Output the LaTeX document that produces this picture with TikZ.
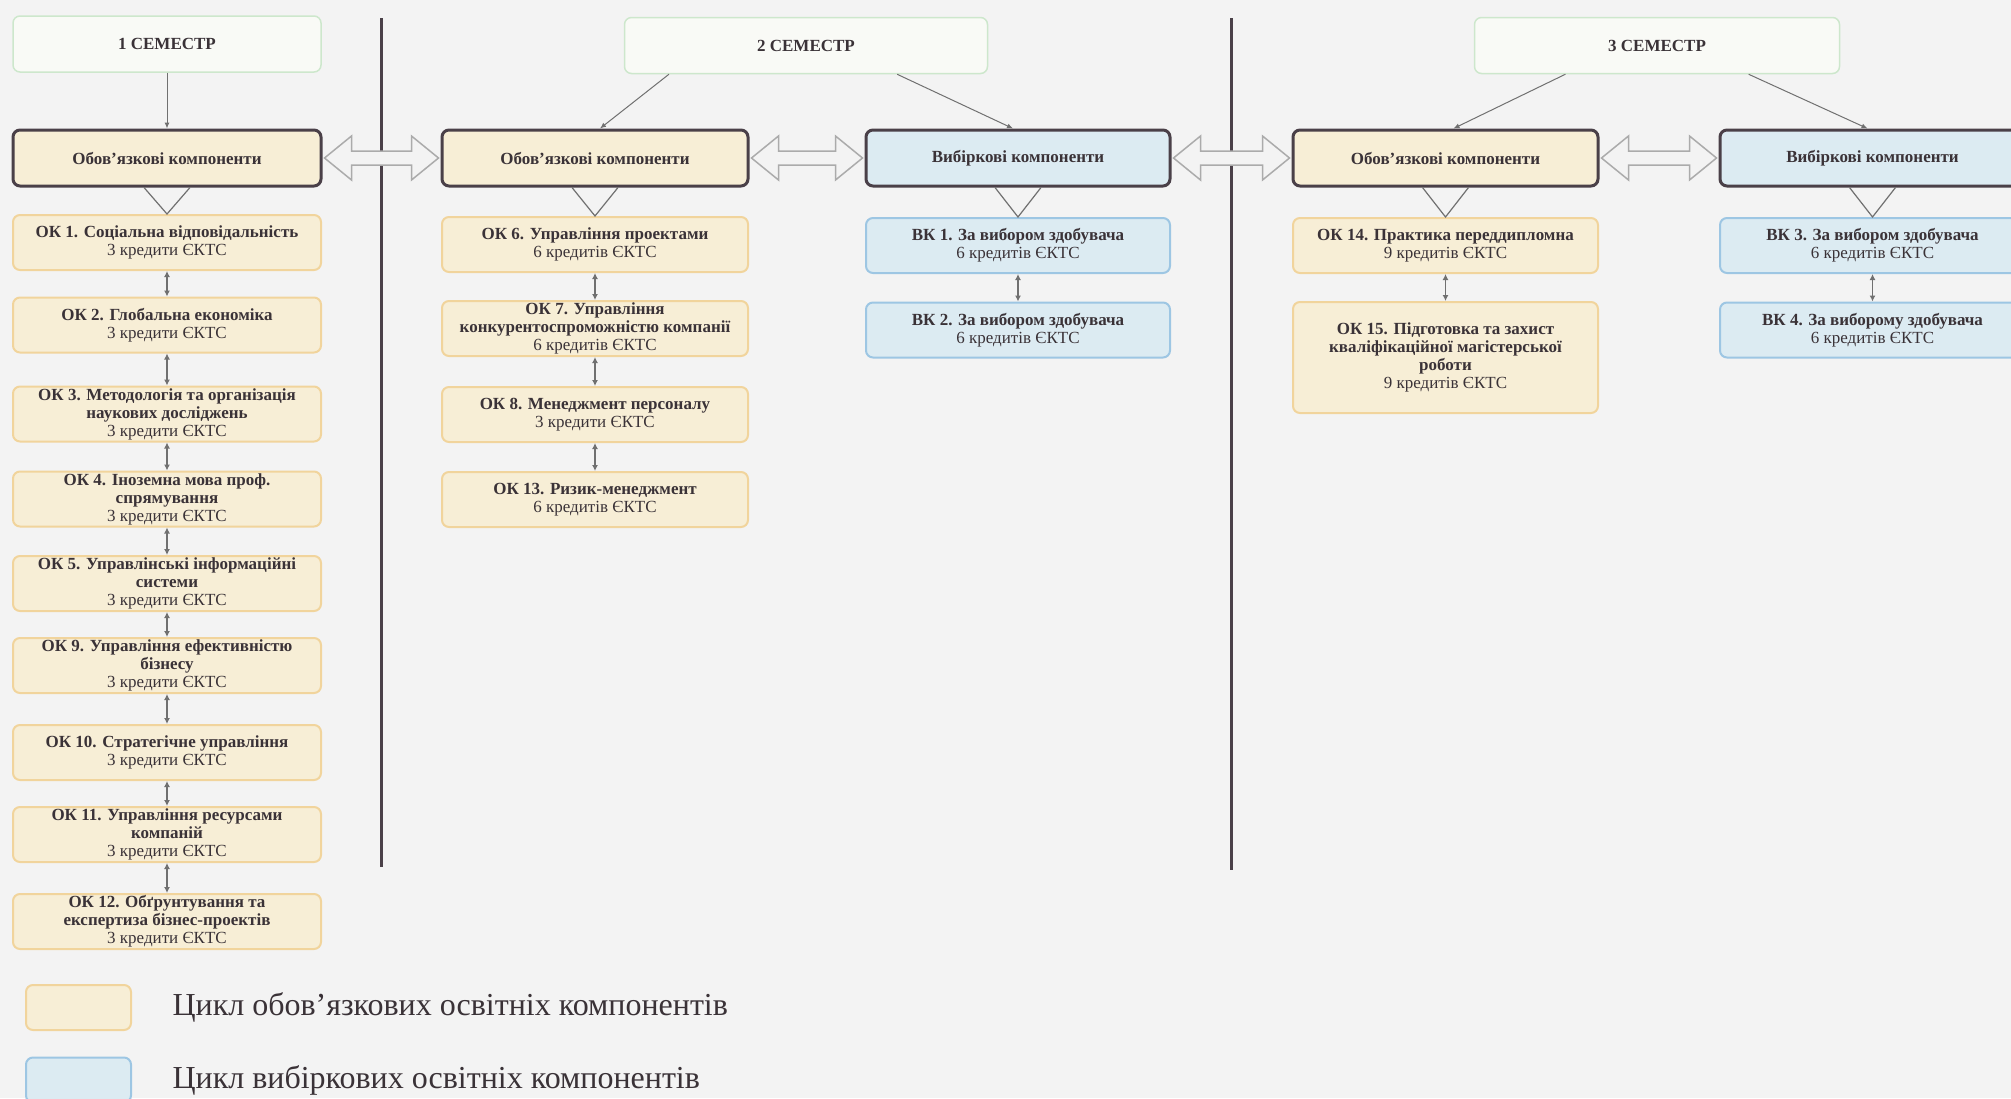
\documentclass[tikz,border=0pt]{standalone}
\usepackage{fontspec}
\setmainfont{Liberation Serif}
\usetikzlibrary{arrows.meta,calc,positioning}

\definecolor{bg}{HTML}{F3F3F3}
\definecolor{semline}{HTML}{CDE7CC}
\definecolor{semfill}{HTML}{F9FAF6}
\definecolor{headline}{HTML}{4A4048}
\definecolor{okfill}{HTML}{F7EED6}
\definecolor{okline}{HTML}{F1D49C}
\definecolor{vkfill}{HTML}{DCEBF2}
\definecolor{vkline}{HTML}{9DC6E3}
\definecolor{ink}{HTML}{3A3237}
\definecolor{twinline}{HTML}{ABABAB}
\definecolor{linkline}{HTML}{707070}

\tikzset{
  box/.style={rectangle, rounded corners=7pt, align=center, inner sep=1pt,
    text=ink, minimum height=55pt, font=\bfseries\fontsize{17}{18}\selectfont},
  sembox/.style={box, draw=semline, fill=semfill, line width=1.5pt,
    minimum width=308pt, minimum height=56pt},
  headbox/.style={box, draw=headline, line width=3pt, minimum width=304pt,
    minimum height=56pt},
  okbox/.style={box, draw=okline, fill=okfill, line width=2pt, minimum width=306pt},
  vkbox/.style={box, draw=vkline, fill=vkfill, line width=2pt, minimum width=304pt},
  link/.style={draw=linkline, line width=1pt, -{Latex[length=6pt,width=5pt]}},
  twoway/.style={draw=linkline, line width=1.2pt,
    {Latex[length=6pt,width=6pt]}-{Latex[length=6pt,width=6pt]}},
  vee/.style={draw=linkline, line width=1.2pt},
  twin/.style={draw=twinline, fill=bg, line width=1.5pt, line join=miter},
  divider/.style={draw=headline, line width=3pt},
  legtext/.style={anchor=west, text=ink, font=\fontsize{32}{36}\selectfont}
}

% hollow two-headed arrow between two head boxes
\newcommand{\twinarrow}[2]{%
  \path[twin] ($(#1.east)+(2,0)$) -- ++(27,-22) -- ++(0,15)
    -- ($(#2.west)+(-29,-7)$) -- ++(0,-15) -- ($(#2.west)+(-2,0)$)
    -- ++(-27,22) -- ++(0,-15) -- ($(#1.east)+(29,7)$) -- ++(0,15) -- cycle;}
\newcommand{\cred}[1]{\textmd{#1}}

\begin{document}
\begin{tikzpicture}[x=1pt,y=-1pt]
\useasboundingbox (0,0) rectangle (2011,1098);
\clip (0,0) rectangle (2011,1098);
\fill[bg] (0,0) rectangle (2011,1098);

\draw[divider] (381,18) -- (381,867);
\draw[divider] (1231,18) -- (1231,870);

% semesters
\node[sembox] (sem1) at (167,44) {1 СЕМЕСТР};
\node[sembox, minimum width=363pt] (sem2) at (806,45.5) {2 СЕМЕСТР};
\node[sembox, minimum width=365pt] (sem3) at (1657,45.5) {3 СЕМЕСТР};

% heads
\node[headbox, fill=okfill, minimum width=308pt] (ob1) at (167,158) {Обов’язкові компоненти};
\node[headbox, fill=okfill, minimum width=306pt] (ob2) at (595,158) {Обов’язкові компоненти};
\node[headbox, fill=vkfill] (vb2) at (1018,158) {Вибіркові компоненти};
\node[headbox, fill=okfill, minimum width=305pt] (ob3) at (1445.5,158) {Обов’язкові компоненти};
\node[headbox, fill=vkfill, minimum width=305pt] (vb3) at (1872.5,158) {Вибіркові компоненти};

% 1 semester
\node[okbox, minimum width=308pt] (ok1) at (167,242.5) {ОК 1. Соціальна відповідальність\\\cred{3 кредити ЄКТС}};
\node[okbox, minimum width=308pt] (ok2) at (167,325) {ОК 2. Глобальна економіка\\\cred{3 кредити ЄКТС}};
\node[okbox, minimum width=308pt] (ok3) at (167,414) {ОК 3. Методологія та організація\\наукових досліджень\\\cred{3 кредити ЄКТС}};
\node[okbox, minimum width=308pt] (ok4) at (167,499) {ОК 4. Іноземна мова проф.\\спрямування\\\cred{3 кредити ЄКТС}};
\node[okbox, minimum width=308pt] (ok5) at (167,583.5) {ОК 5. Управлінські інформаційні\\системи\\\cred{3 кредити ЄКТС}};
\node[okbox, minimum width=308pt] (ok9) at (167,665.5) {ОК 9. Управління ефективністю\\бізнесу\\\cred{3 кредити ЄКТС}};
\node[okbox, minimum width=308pt] (ok10) at (167,752.5) {ОК 10. Стратегічне управління\\\cred{3 кредити ЄКТС}};
\node[okbox, minimum width=308pt] (ok11) at (167,834.5) {ОК 11. Управління ресурсами\\компаній\\\cred{3 кредити ЄКТС}};
\node[okbox, minimum width=308pt] (ok12) at (167,921.5) {ОК 12. Обґрунтування та\\експертиза бізнес-проектів\\\cred{3 кредити ЄКТС}};

% 2 semester
\node[okbox] (ok6) at (595,244.5) {ОК 6. Управління проектами\\\cred{6 кредитів ЄКТС}};
\node[okbox] (ok7) at (595,328.5) {ОК 7. Управління\\конкурентоспроможністю компанії\\\cred{6 кредитів ЄКТС}};
\node[okbox] (ok8) at (595,414.5) {ОК 8. Менеджмент персоналу\\\cred{3 кредити ЄКТС}};
\node[okbox] (ok13) at (595,499.5) {ОК 13. Ризик-менеджмент\\\cred{6 кредитів ЄКТС}};
\node[vkbox] (vk1) at (1018,245.5) {ВК 1. За вибором здобувача\\\cred{6 кредитів ЄКТС}};
\node[vkbox] (vk2) at (1018,330) {ВК 2. За вибором здобувача\\\cred{6 кредитів ЄКТС}};

% 3 semester
\node[okbox, minimum width=305pt] (ok14) at (1445.5,245.5) {ОК 14. Практика переддипломна\\\cred{9 кредитів ЄКТС}};
\node[okbox, minimum width=305pt, minimum height=111pt] (ok15) at (1445.5,357.5) {ОК 15. Підготовка та захист\\кваліфікаційної магістерської\\роботи\\\cred{9 кредитів ЄКТС}};
\node[vkbox, minimum width=305pt] (vk3) at (1872.5,245.5) {ВК 3. За вибором здобувача\\\cred{6 кредитів ЄКТС}};
\node[vkbox, minimum width=305pt] (vk4) at (1872.5,330) {ВК 4. За виборому здобувача\\\cred{6 кредитів ЄКТС}};

% semester to heads
\draw[link] (sem1.south) -- (ob1.north);
\draw[link] ($(sem2.south west)!0.124!(sem2.south east)$) -- ($(ob2.north)+(5,0)$);
\draw[link] ($(sem2.south west)!0.75!(sem2.south east)$) -- ($(vb2.north)+(-5,0)$);
\draw[link] ($(sem3.south west)!0.25!(sem3.south east)$) -- ($(ob3.north)+(8,0)$);
\draw[link] ($(sem3.south west)!0.75!(sem3.south east)$) -- ($(vb3.north)+(-5,0)$);

% heads to first items
\foreach \h/\f in {ob1/ok1, ob2/ok6, vb2/vk1, ob3/ok14, vb3/vk3}
  \draw[vee] ($(\h.south)+(-23,0)$) -- (\f.north) -- ($(\h.south)+(23,0)$);

% chains
\foreach \a/\b in {ok1/ok2, ok2/ok3, ok3/ok4, ok4/ok5, ok5/ok9, ok9/ok10,
    ok10/ok11, ok11/ok12, ok6/ok7, ok7/ok8, ok8/ok13, vk1/vk2, ok14/ok15, vk3/vk4}
  \draw[twoway] (\a.south) -- (\b.north);

\twinarrow{ob1}{ob2}
\twinarrow{ob2}{vb2}
\twinarrow{vb2}{ob3}
\twinarrow{ob3}{vb3}

% legend
\node[okbox, minimum width=105pt, minimum height=45pt] (legok) at (78.5,1007.5) {};
\node[vkbox, minimum width=105pt, minimum height=45pt] (legvk) at (78.5,1080) {};
\node[legtext, right=37pt of legok] (legoktext) {Цикл обов’язкових освітніх компонентів};
\node[legtext, right=37pt of legvk] (legvktext) {Цикл вибіркових освітніх компонентів};
\end{tikzpicture}
\end{document}
